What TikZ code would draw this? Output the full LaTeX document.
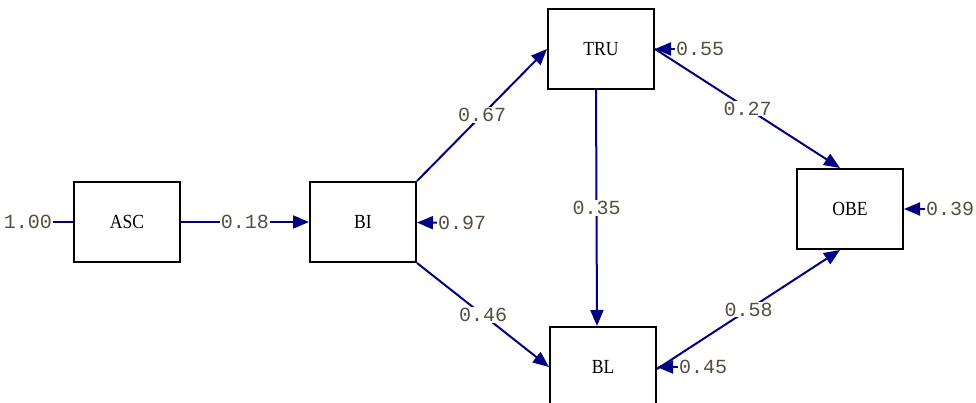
\documentclass[tikz,border=0pt]{standalone}
\usepackage{fontspec}
\setmainfont{Liberation Serif}
\setmonofont{Liberation Mono}
\newfontfamily\boxfont[FakeStretch=0.88]{Liberation Serif}
\usetikzlibrary{arrows.meta}
\definecolor{pathblue}{RGB}{0,0,128}
\definecolor{coefgray}{RGB}{85,78,66}

\begin{document}
\begin{tikzpicture}[x=1pt,y=-1pt,
                    every edge/.style={draw=pathblue,line width=2pt,->,
                                       >={Triangle[length=16pt,width=13pt]}},
                    var/.style={draw=black,line width=2pt,minimum width=106pt,
                                minimum height=80pt,font=\boxfont\fontsize{20}{20}\selectfont},
                    coef/.style={fill=white,inner sep=1pt,text=coefgray,
                                 font=\ttfamily\fontsize{20}{20}\selectfont}]
                \useasboundingbox (0,0) rectangle (976,403);
                \node[var] (ASC) at (127,222) {ASC};
                \node[var] (BI)  at (363,222) {BI};
                \node[var] (TRU) at (601,49)  {TRU};
                \node[var] (BL)  at (603,367) {BL};
                \node[var] (OBE) at (850,209) {OBE};

                % error terms
                \node[coef] (eASC) at (28,222)  {1.00};
                \node[coef] (eBI)  at (462,223) {0.97};
                \node[coef] (eTRU) at (700,49)  {0.55};
                \node[coef] (eBL)  at (703,367) {0.45};
                \node[coef] (eOBE) at (950,209) {0.39};

                \path
                (eASC) edge[-] (ASC)
                (eBI)  edge (BI)
                (eTRU) edge (TRU)
                (eBL)  edge (BL)
                (eOBE) edge (OBE)
                (ASC) edge node[coef] {0.18} (BI)
                (BI.north east) edge node[coef] {0.67} (TRU.west)
                (BI.south east) edge node[coef] {0.46} (BL.west)
                ([xshift=-5pt]TRU.south) edge node[coef] {0.35} ([xshift=-6pt]BL.north)
                (TRU.east) edge node[coef] {0.27} ([xshift=-10pt]OBE.north)
                ([yshift=-2pt]BL.east) edge node[coef] {0.58} ([xshift=-10pt]OBE.south)
                ;
            \end{tikzpicture}
\end{document}
